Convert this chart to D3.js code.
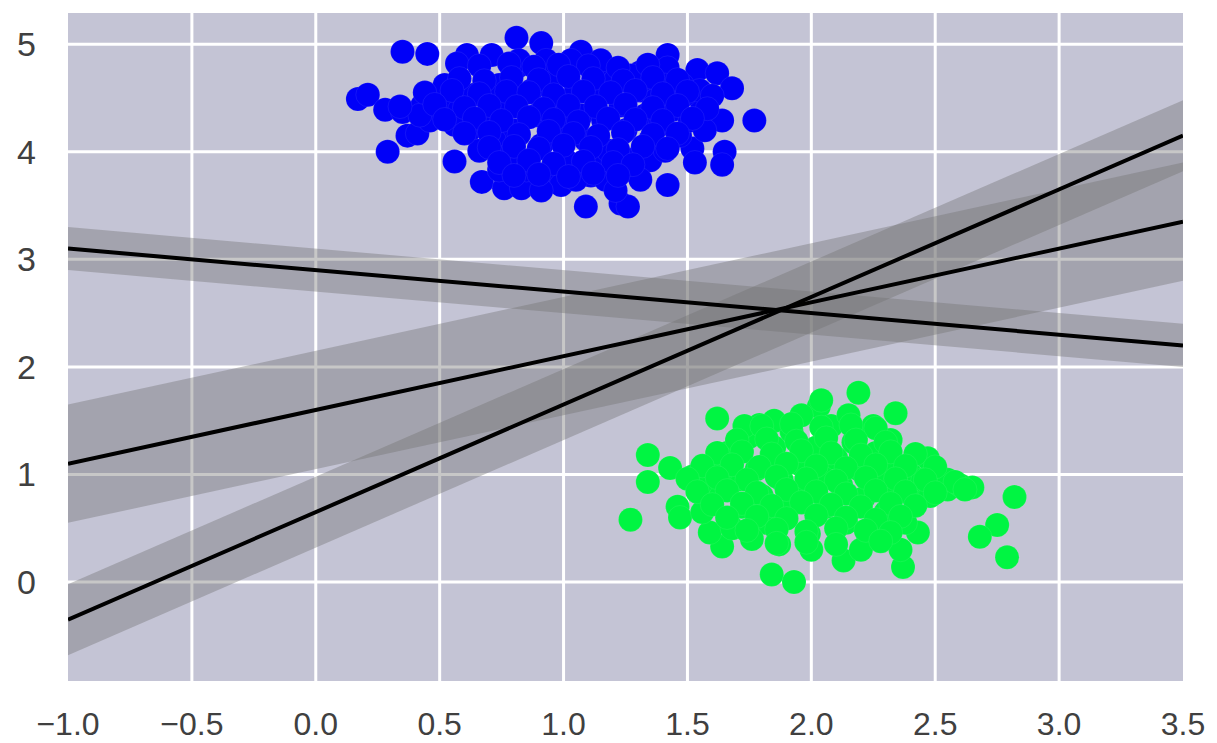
<!DOCTYPE html>
<html>
<head>
<meta charset="utf-8">
<script src="https://cdn.jsdelivr.net/npm/d3@7"></script>
<style>
  body { margin: 0; background: #fff; }
  text { font-family: "Liberation Sans", Arial, sans-serif; }
</style>
</head>
<body>
<svg id="chart"></svg>
<script>
// blob 1 (top left)
const blueX = [0.35,0.45,0.17,0.21,0.28,0.29,0.37,0.41,0.56,0.61,0.57,0.71,0.81,0.91,0.67,0.76,0.83,0.35,0.43,0.48,
  1.07,1.42,1.42,1.54,1.62,1.68,1.64,1.77,1.52,1.53,1.65,1.64,1.42,1.09,1.23,1.26,1.56,1.30,1.16,1.31,0.98,1.15,1.48,
  0.50,0.58,0.64,0.70,0.74,0.76,0.80,0.82,0.87,0.89,0.91,0.94,0.97,0.99,1.01,1.03,1.05,1.07,1.09,1.11,1.14,1.16,1.18,
  1.21,1.23,1.25,1.27,1.31,1.33,1.35,1.37,1.39,1.41,1.44,1.47,1.49,1.51,0.62,0.66,0.72,0.78,0.85,0.93,0.99,1.05,1.17,
  0.74,0.82,0.93,1.15,1.27,1.35,1.41,0.56,0.46,0.52,0.42,1.31,1.21,0.91,1.57,1.55,
  0.66,0.78,0.88,0.98,1.10,1.22,1.34,
  0.58,0.68,0.79,0.90,1.02,1.12,1.24,1.36,1.46,
  0.44,0.55,0.66,0.77,0.86,0.96,1.08,1.19,1.29,1.40,1.50,1.60,
  0.34,0.48,0.60,0.70,0.81,0.92,1.02,1.13,1.25,1.36,1.46,1.58,
  0.52,0.64,0.75,0.86,0.96,1.06,1.18,1.29,1.40,1.52,
  0.60,0.70,0.82,0.94,1.04,1.14,1.24,1.36,1.46,
  0.70,0.80,0.90,1.00,1.11,1.22,1.32,1.42,
  0.74,0.86,0.96,1.08,1.20,1.28,
  0.80,0.90,1.02,1.12,1.22];
const blueY = [4.93,4.91,4.49,4.53,4.39,4.00,4.15,4.17,3.91,4.90,4.82,4.90,5.06,5.01,3.72,3.66,3.66,4.37,4.43,4.50,
  4.93,4.90,4.78,4.76,4.73,4.59,4.29,4.29,4.03,3.90,4.00,3.88,3.69,3.49,3.52,3.49,4.43,3.95,4.74,4.74,3.81,3.85,4.62,
  4.48,4.39,4.53,4.29,4.62,4.43,4.20,4.80,4.57,4.34,4.06,4.67,4.43,4.25,3.92,4.85,4.57,4.34,4.11,3.78,4.53,4.29,4.01,
  4.67,4.43,4.20,3.83,4.57,4.34,4.11,4.48,4.25,4.62,4.39,4.15,4.53,4.29,4.20,4.01,4.11,3.97,3.83,3.78,3.69,3.74,3.74,
  3.83,4.85,4.85,4.85,4.71,3.92,4.01,4.25,4.29,4.62,4.34,3.74,3.64,3.64,4.20,4.57,
  4.80,4.82,4.79,4.81,4.80,4.78,4.81,
  4.68,4.66,4.69,4.67,4.70,4.68,4.66,4.69,4.67,
  4.55,4.57,4.54,4.56,4.55,4.53,4.56,4.55,4.57,4.54,4.56,4.52,
  4.42,4.44,4.41,4.43,4.42,4.40,4.43,4.42,4.44,4.41,4.43,4.40,
  4.30,4.31,4.29,4.32,4.30,4.28,4.31,4.30,4.29,4.31,
  4.17,4.18,4.16,4.19,4.17,4.15,4.18,4.16,4.17,
  4.04,4.05,4.03,4.06,4.04,4.02,4.05,4.03,
  3.90,3.92,3.89,3.91,3.90,3.88,
  3.78,3.79,3.77,3.80,3.78];

// blob 2 (bottom right)
const greenX = [1.62,1.34,1.34,1.27,1.46,1.47,1.64,1.84,1.93,2.03,1.43,1.52,1.59,2.19,2.34,2.32,2.47,2.65,2.55,2.82,
  2.75,2.68,2.79,2.37,2.36,2.13,2.43,2.04,1.79,
  1.66,1.70,1.72,1.75,1.78,1.80,1.82,1.85,1.88,1.90,1.92,1.95,1.97,1.99,2.02,2.04,2.06,2.08,2.10,2.12,2.14,2.17,2.19,
  2.21,2.23,2.26,2.28,2.30,2.33,2.35,2.38,2.40,2.42,2.45,2.48,1.60,1.63,1.68,1.76,1.87,1.96,2.15,2.25,2.50,2.55,2.60,
  1.56,1.55,2.00,2.20,1.73,1.85,
  1.80,1.92,2.04,2.16,2.26,
  1.70,1.82,1.94,2.06,2.18,2.30,
  1.62,1.72,1.84,1.96,2.08,2.20,2.32,2.42,
  1.56,1.68,1.79,1.90,2.02,2.14,2.26,2.38,2.50,
  1.50,1.62,1.74,1.86,1.98,2.10,2.22,2.34,2.46,2.58,
  1.54,1.66,1.78,1.90,2.02,2.14,2.26,2.38,2.50,2.62,
  1.60,1.72,1.84,1.96,2.08,2.20,2.32,2.42,
  1.66,1.78,1.90,2.02,2.14,2.26,2.36,
  1.74,1.86,1.98,2.10,2.22,2.32,
  1.86,1.98,2.10,2.28];
const greenY = [1.52,1.18,0.93,0.58,0.70,0.60,0.33,0.07,0.00,1.63,1.06,0.98,0.46,1.76,1.57,1.32,1.15,0.88,0.86,0.79,
  0.53,0.42,0.23,0.14,0.30,0.20,0.46,1.69,1.46,
  1.20,0.95,0.70,1.35,1.05,0.80,0.55,1.25,0.95,0.65,1.40,1.10,0.85,0.45,1.25,1.00,0.70,1.45,1.15,0.90,0.55,1.30,1.05,
  0.78,0.40,1.20,0.95,0.65,1.10,0.85,0.55,1.00,0.75,0.95,0.80,0.80,1.00,0.50,0.40,0.35,1.55,1.55,1.45,1.05,0.95,0.90,
  0.65,0.90,0.30,0.30,1.45,1.50,
  1.45,1.47,1.44,1.46,1.43,
  1.32,1.33,1.31,1.34,1.32,1.30,
  1.20,1.21,1.19,1.22,1.20,1.18,1.21,1.19,
  1.08,1.09,1.07,1.10,1.08,1.06,1.09,1.08,1.07,
  0.96,0.97,0.95,0.98,0.96,0.94,0.97,0.96,0.95,0.93,
  0.84,0.85,0.83,0.86,0.84,0.82,0.85,0.84,0.83,0.86,
  0.72,0.73,0.71,0.74,0.72,0.70,0.73,0.71,
  0.60,0.61,0.59,0.62,0.60,0.58,0.61,
  0.48,0.49,0.47,0.50,0.48,0.46,
  0.36,0.37,0.35,0.38];

// candidate separating lines: y = m*x + b, band half width d
const slopes = [1, 0.5, -0.2];
const intercepts = [0.65, 1.6, 2.9];
const margins = [0.33, 0.55, 0.2];

const xTicks = [-1.0, -0.5, 0.0, 0.5, 1.0, 1.5, 2.0, 2.5, 3.0, 3.5];
const yTicks = [0, 1, 2, 3, 4, 5];

const W = 1217, H = 743;
const svg = d3.select('#chart').attr('width', W).attr('height', H);

const x = d3.scaleLinear().domain([-1, 3.5]).range([68, 1183]);
const y = d3.scaleLinear().domain([-0.92, 5.29]).range([681, 13]);

const fmtX = d => d3.format('.1f')(d).replace('-', '\u2212');

svg.append('defs').append('clipPath').attr('id', 'plotclip')
  .append('rect')
  .attr('x', x(-1)).attr('y', y(5.29))
  .attr('width', x(3.5) - x(-1)).attr('height', y(-0.92) - y(5.29));

// background
svg.append('rect')
  .attr('x', x(-1)).attr('y', y(5.29))
  .attr('width', x(3.5) - x(-1)).attr('height', y(-0.92) - y(5.29))
  .attr('fill', '#c4c4d5');

// grid
const grid = svg.append('g').attr('stroke', '#fff').attr('stroke-width', 3);
grid.selectAll('.gx').data(xTicks.slice(1, -1)).enter().append('line')
  .attr('x1', d => x(d)).attr('x2', d => x(d))
  .attr('y1', y(5.29)).attr('y2', y(-0.92));
grid.selectAll('.gy').data(yTicks).enter().append('line')
  .attr('y1', d => y(d)).attr('y2', d => y(d))
  .attr('x1', x(-1)).attr('x2', x(3.5));

const plot = svg.append('g').attr('clip-path', 'url(#plotclip)');

// scatter
const blue = blueX.map((v, i) => ({x: v, y: blueY[i]}));
const green = greenX.map((v, i) => ({x: v, y: greenY[i]}));

plot.selectAll('.b').data(blue).enter().append('circle')
  .attr('cx', d => x(d.x)).attr('cy', d => y(d.y)).attr('r', 12)
  .attr('fill', '#0000f8').attr('stroke', '#fff').attr('stroke-width', 0.5).attr('stroke-opacity', 0.15);
plot.selectAll('.g').data(green).enter().append('circle')
  .attr('cx', d => x(d.x)).attr('cy', d => y(d.y)).attr('r', 12)
  .attr('fill', '#00f542').attr('stroke', '#fff').attr('stroke-width', 0.5).attr('stroke-opacity', 0.15);

// bands first, then the lines on top
const xfit = [-1, 3.5];
slopes.forEach((m, i) => {
  const b = intercepts[i], d = margins[i];
  const area = d3.area()
    .x(v => x(v))
    .y0(v => y(m * v + b - d))
    .y1(v => y(m * v + b + d));
  plot.append('path').datum(xfit)
    .attr('d', area)
    .attr('fill', '#727272').attr('fill-opacity', 0.4);
});
slopes.forEach((m, i) => {
  const b = intercepts[i];
  const line = d3.line().x(v => x(v)).y(v => y(m * v + b));
  plot.append('path').datum(xfit)
    .attr('d', line)
    .attr('fill', 'none').attr('stroke', '#000').attr('stroke-width', 4);
});

// tick labels
svg.append('g').selectAll('text').data(xTicks).enter().append('text')
  .attr('x', d => x(d)).attr('y', 735)
  .attr('text-anchor', 'middle')
  .attr('font-size', 32).attr('fill', '#404040')
  .text(fmtX);

svg.append('g').selectAll('text').data(yTicks).enter().append('text')
  .attr('x', 36).attr('y', d => y(d))
  .attr('text-anchor', 'end').attr('dominant-baseline', 'central')
  .attr('font-size', 34).attr('fill', '#404040')
  .text(d => d);
</script>
</body>
</html>
